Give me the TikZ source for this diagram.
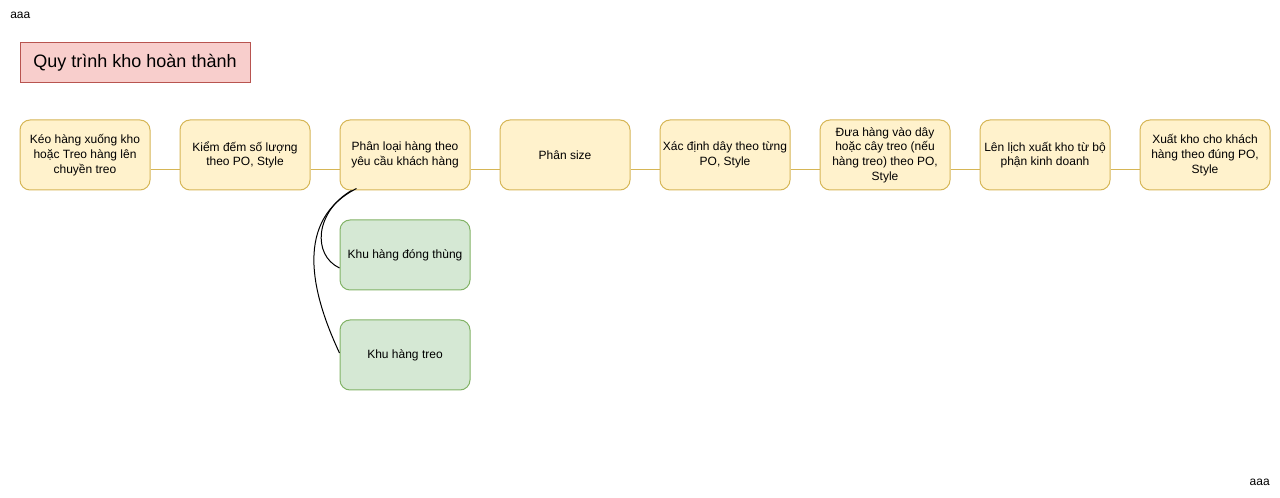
\documentclass[tikz,border=0pt]{standalone}
\usepackage{fontspec}
\setmainfont{Liberation Sans}
\definecolor{yfill}{HTML}{FFF2CC}
\definecolor{ystroke}{HTML}{D6B656}
\definecolor{gfill}{HTML}{D5E8D4}
\definecolor{gstroke}{HTML}{82B366}
\definecolor{rfill}{HTML}{F8CECC}
\definecolor{rstroke}{HTML}{B85450}
\begin{document}
\begin{tikzpicture}[x=0.75pt,y=-0.75pt,
  stepbox/.style={draw=ystroke,fill=yfill,line width=0.75pt,rounded corners=7.5pt,
    minimum width=97.5pt,minimum height=52.5pt,inner sep=0pt,align=center,
    font=\fontsize{9}{11}\selectfont},
  zonebox/.style={stepbox,draw=gstroke,fill=gfill},
  titlebox/.style={draw=rstroke,fill=rfill,line width=0.75pt,minimum width=172.5pt,
    minimum height=30pt,inner sep=0pt,font=\fontsize{13.5}{16}\selectfont},
  plain/.style={font=\fontsize{9}{10.8}\selectfont,inner sep=0pt},
  link/.style={draw=ystroke,line width=0.75pt},
  curve/.style={draw=black,line width=0.75pt}]
\useasboundingbox (0,0) rectangle (1280,498);
\node[plain,anchor=west] (t1) at (10,15) {aaa};
\node[plain,anchor=east] (t2) at (1270,482) {aaa};
\node[titlebox] (title) at (135,63) {Quy trình kho hoàn thành};
\node[stepbox] (k1) at (85,155) {Kéo hàng xuống kho\\hoặc Treo hàng lên\\chuyền treo};
\node[stepbox] (k2) at (245,155) {Kiểm đếm số lượng\\theo PO, Style};
\node[stepbox] (k3) at (405,155) {Phân loại hàng theo\\yêu cầu khách hàng};
\node[stepbox] (k4) at (565,155) {Phân size};
\node[stepbox] (k5) at (725,155) {Xác định dây theo từng\\PO, Style};
\node[stepbox] (k6) at (885,155) {Đưa hàng vào dây\\hoặc cây treo (nếu\\hàng treo) theo PO,\\Style};
\node[stepbox] (k7) at (1045,155) {Lên lịch xuất kho từ bộ\\phận kinh doanh};
\node[stepbox] (k8) at (1205,155) {Xuất kho cho khách\\hàng theo đúng PO,\\Style};
\node[zonebox] (g1) at (405,255) {Khu hàng đóng thùng};
\node[zonebox] (g2) at (405,355) {Khu hàng treo};
\foreach \a/\b in {k1/k2,k2/k3,k3/k4,k4/k5,k5/k6,k6/k7,k7/k8}
  \draw[link] ([yshift=-11.25pt]\a.east) -- ([yshift=-11.25pt]\b.west);
\draw[curve] ([xshift=9pt]k3.south west) .. controls (315,212) and (312,255) .. ([yshift=-9.75pt]g1.west);
\draw[curve] ([xshift=12.75pt,yshift=1.5pt]k3.south west) .. controls (295,220) and (310,290) .. ([yshift=1.5pt]g2.west);
\end{tikzpicture}
\end{document}
